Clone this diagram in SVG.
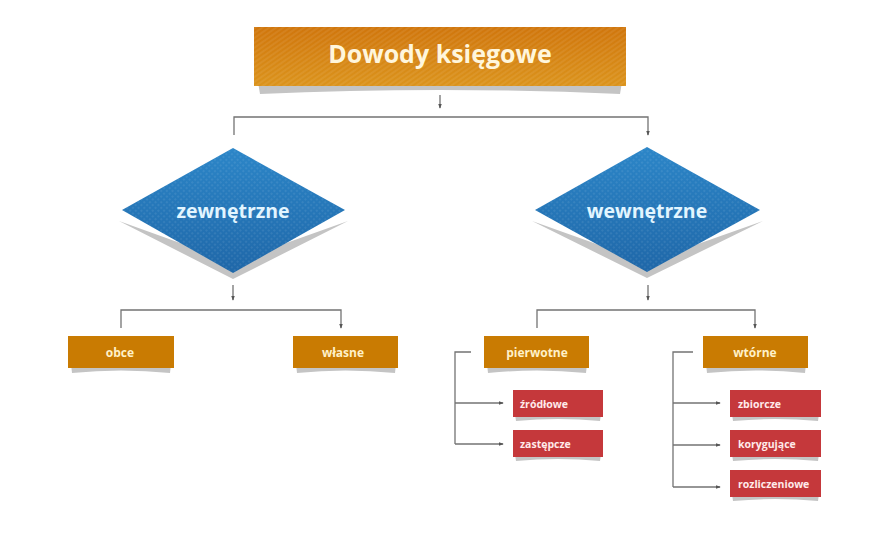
<svg xmlns="http://www.w3.org/2000/svg" width="880" height="540" viewBox="0 0 880 540">
<defs>
<linearGradient id="gOr" x1="0" y1="0" x2="0" y2="1">
<stop offset="0" stop-color="#d0760c"/>
<stop offset="1" stop-color="#db931c"/>
</linearGradient>
<linearGradient id="gBl" x1="0" y1="0" x2="0" y2="1">
<stop offset="0" stop-color="#2c86c8"/>
<stop offset="1" stop-color="#1f67a8"/>
</linearGradient>
<pattern id="stripes" width="4" height="4" patternUnits="userSpaceOnUse" patternTransform="rotate(-35)">
<rect width="4" height="2" fill="#ffffff" fill-opacity="0.07"/>
</pattern>
<pattern id="dots" width="4" height="4" patternUnits="userSpaceOnUse" patternTransform="rotate(45)">
<rect width="2" height="2" fill="#ffffff" fill-opacity="0.08"/>
</pattern>
<marker id="arr" viewBox="0 0 6 6" refX="5" refY="3" markerWidth="5" markerHeight="5" orient="auto" markerUnits="userSpaceOnUse">
<path d="M0,0.8 L6,3 L0,5.2 Z" fill="#555"/>
</marker>
<style>
.ln{fill:none;stroke:#737373;stroke-width:1.3}
.ar{marker-end:url(#arr)}
.sh{fill:#c4c4c4}
.ob{fill:#c97b02}
.rb{fill:#c5383b}
.t{font-family:"Open Sans",Lato,"Liberation Sans",sans-serif;font-weight:bold}
.tt{font-size:25px;fill:#fff6dc;text-anchor:middle}
.td{font-size:19.5px;fill:#e2f5ff;text-anchor:middle}
.to{font-size:12px;fill:#fff1c8;text-anchor:middle}
.tr{font-size:10.5px;fill:#ffeaea}
</style>
</defs>
<rect width="880" height="540" fill="#ffffff"/>
<g id="connectors">
<path class="ln ar" d="M440,95 V108"/>
<path class="ln ar" d="M234,135 V117 H648 V135"/>
<path class="ln ar" d="M233,285 V300"/>
<path class="ln ar" d="M121,328 V310 H341 V328"/>
<path class="ln ar" d="M648,285 V300"/>
<path class="ln ar" d="M537,328 V310 H755 V328"/>
<path class="ln" d="M471,352 H455 V444"/>
<path class="ln ar" d="M455,403 H503"/>
<path class="ln ar" d="M455,444 H503"/>
<path class="ln" d="M693,352 H673 V487"/>
<path class="ln ar" d="M673,403 H720"/>
<path class="ln ar" d="M673,445 H720"/>
<path class="ln ar" d="M673,487 H720"/>
</g>
<g id="node-dowody">
<path class="sh" d="M258,82 H622 L620,94 Q440,86 260,94 Z"/>
<rect x="254" y="27" width="372" height="59" fill="url(#gOr)"/>
<rect x="254" y="27" width="372" height="59" fill="url(#stripes)"/>
<text class="t tt" x="440" y="63">Dowody księgowe</text>
</g>
<g id="node-zewnetrzne">
<path class="sh" d="M119,221 L233,279 L348,221 L233,262 Z"/>
<polygon points="233,148 345,210 233,273 122,210" fill="url(#gBl)"/>
<polygon points="233,148 345,210 233,273 122,210" fill="url(#dots)"/>
<text class="t td" x="233" y="218">zewnętrzne</text>
</g>
<g id="node-wewnetrzne">
<path class="sh" d="M532,221 L647,278 L763,221 L647,262 Z"/>
<polygon points="647,147 760,210 647,272 535,210" fill="url(#gBl)"/>
<polygon points="647,147 760,210 647,272 535,210" fill="url(#dots)"/>
<text class="t td" x="647" y="218">wewnętrzne</text>
</g>
<g id="node-obce">
<path class="sh" d="M71,364 H171 L170,373 Q121,368 72,373 Z"/>
<rect class="ob" x="68" y="336" width="106" height="32"/>
<text class="t to" x="120" y="357">obce</text>
</g>
<g id="node-wlasne">
<path class="sh" d="M296,364 H396 L395,373 Q345,368 297,373 Z"/>
<rect class="ob" x="293" y="336" width="105" height="32"/>
<text class="t to" x="343" y="357">własne</text>
</g>
<g id="node-pierwotne">
<path class="sh" d="M487,364 H587 L586,373 Q537,368 488,373 Z"/>
<rect class="ob" x="484" y="336" width="105" height="32"/>
<text class="t to" x="537" y="357">pierwotne</text>
</g>
<g id="node-wtorne">
<path class="sh" d="M706,364 H806 L805,373 Q756,368 707,373 Z"/>
<rect class="ob" x="703" y="336" width="105" height="32"/>
<text class="t to" x="755" y="357">wtórne</text>
</g>
<g id="node-zrodlowe">
<path class="sh" d="M515,414 H601 L600,421 Q558,417 516,421 Z"/>
<rect class="rb" x="513" y="390" width="90" height="27"/>
<text class="t tr" x="520" y="407.5">źródłowe</text>
</g>
<g id="node-zastepcze">
<path class="sh" d="M515,454 H601 L600,461 Q558,457 516,461 Z"/>
<rect class="rb" x="513" y="430" width="90" height="27"/>
<text class="t tr" x="520" y="447.5">zastępcze</text>
</g>
<g id="node-zbiorcze">
<path class="sh" d="M732,414 H819 L818,421 Q775,417 733,421 Z"/>
<rect class="rb" x="730" y="390" width="91" height="27"/>
<text class="t tr" x="738" y="407.5">zbiorcze</text>
</g>
<g id="node-korygujace">
<path class="sh" d="M732,454 H819 L818,461 Q775,457 733,461 Z"/>
<rect class="rb" x="730" y="430" width="91" height="27"/>
<text class="t tr" x="738" y="447.5">korygujące</text>
</g>
<g id="node-rozliczeniowe">
<path class="sh" d="M732,494 H819 L818,501 Q775,497 733,501 Z"/>
<rect class="rb" x="730" y="470" width="91" height="27"/>
<text class="t tr" x="738" y="487.5">rozliczeniowe</text>
</g>
</svg>
